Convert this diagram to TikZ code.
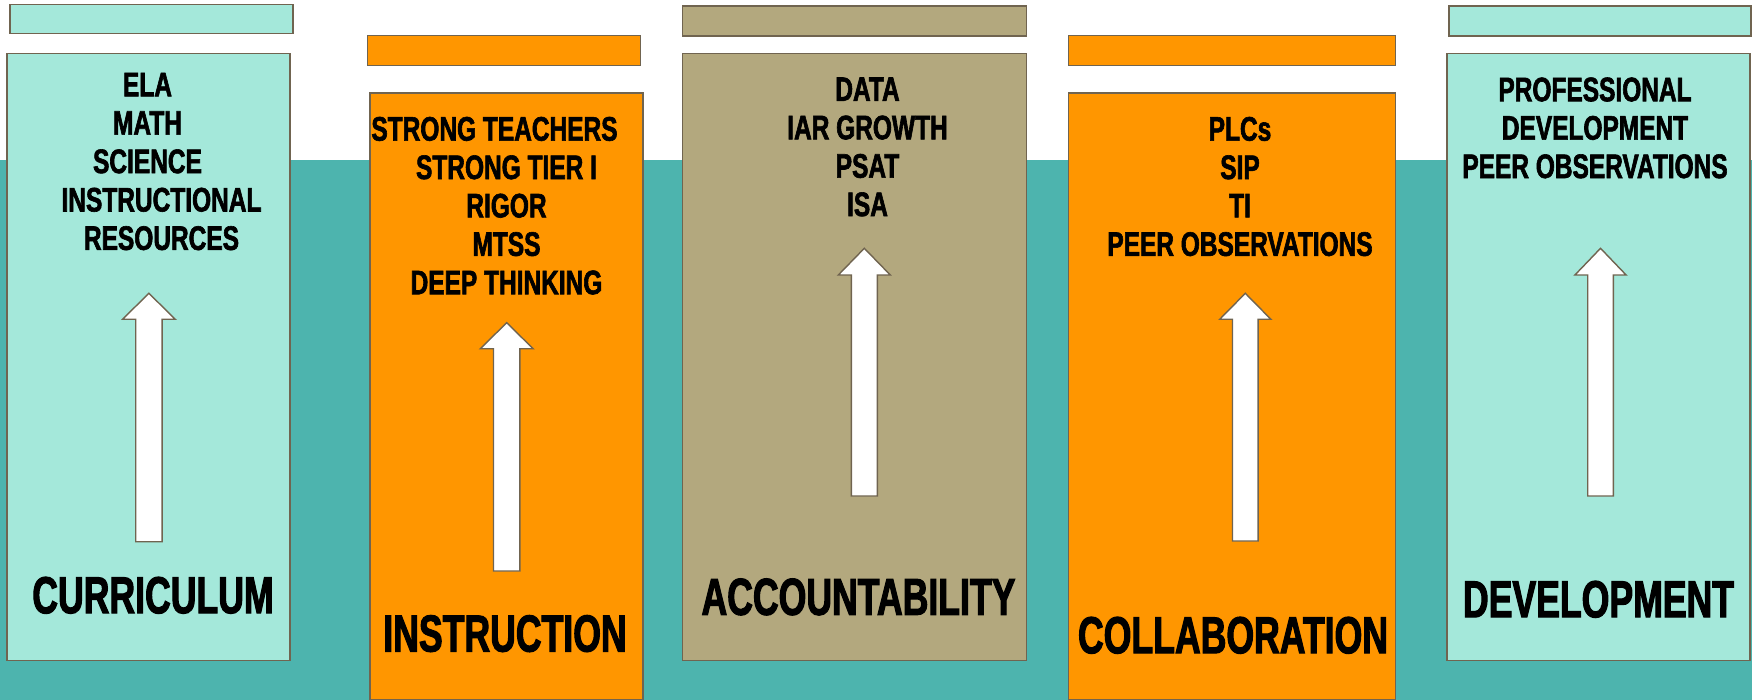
\documentclass[tikz,border=0pt]{standalone}
\usepackage{fontspec}
\newfontfamily\oswi{Liberation Sans}[FakeStretch=0.72,FakeBold=1.8]
\newfontfamily\oswt{Liberation Sans}[FakeStretch=0.685,FakeBold=2]
\definecolor{bgteal}{HTML}{4DB4AE}
\definecolor{mint}{HTML}{A4E8DA}
\definecolor{orng}{HTML}{FF9600}
\definecolor{khaki}{HTML}{B3A87E}
\definecolor{edge}{HTML}{706450}
\newcommand\drawup[5]{% center x, tip y, head base y, bottom y, half shaft
  \draw[arrowbox] ({#1-#5},#4) -- ({#1-#5},#3) -- ({#1-2*#5},#3) -- (#1,#2)
    -- ({#1+2*#5},#3) -- ({#1+#5},#3) -- ({#1+#5},#4) -- cycle;}
\begin{document}
\begin{tikzpicture}[x=1pt,y=-1pt,
  panel/.style={draw=edge,line width=1.6pt},
  arrowbox/.style={draw=edge,fill=white,line width=1.4pt,line join=miter},
  items/.style={font=\oswi\bfseries\fontsize{34}{38.4}\selectfont,align=center,anchor=north,inner sep=0pt},
  title/.style={font=\oswt\bfseries\fontsize{52}{60}\selectfont,anchor=north,inner sep=0pt}]
\useasboundingbox (0,0) rectangle (1752,700);
\fill[white] (0,0) rectangle (1752,700);
\fill[bgteal] (0,160) rectangle (1752,700);
% curriculum
\draw[panel,fill=mint] (9.8,4.5) rectangle (292.9,33.5);
\draw[panel,fill=mint] (7.1,53.5) rectangle (290.2,660.5);
\drawup{148.9}{293.3}{319.3}{541.7}{13.2}
\node[items] (curitems) at (147.5,72.7) {ELA\\MATH\\SCIENCE\\\kern28pt INSTRUCTIONAL\\\kern28pt RESOURCES};
\node[title] (curtitle) at (153,576.7) {CURRICULUM};
% instruction
\draw[panel,fill=orng] (367.4,35.7) rectangle (640.6,65.5);
\draw[panel,fill=orng] (370,93.3) rectangle (642.9,699.5);
\drawup{506.7}{322.7}{348.7}{571}{13.2}
\node[items] (insitems) at (506.5,116.7) {STRONG TEACHERS\kern24pt\\STRONG TIER I\\RIGOR\\MTSS\\DEEP THINKING};
\node[title] (institle) at (505,615) {INSTRUCTION};
% accountability
\draw[panel,fill=khaki] (682.6,6) rectangle (1026.3,36);
\draw[panel,fill=khaki] (682.6,53.5) rectangle (1026.3,660.5);
\drawup{864.3}{248.3}{275}{496}{13}
\node[items] (accitems) at (867.5,77.3) {DATA\\IAR GROWTH\\PSAT\\ISA};
\node[title] (acctitle) at (858.5,578.3) {ACCOUNTABILITY};
% collaboration
\draw[panel,fill=orng] (1068.3,35.7) rectangle (1395.5,65.5);
\draw[panel,fill=orng] (1068.3,93.3) rectangle (1395.3,699.5);
\drawup{1245.3}{293.3}{319.3}{541}{12.8}
\node[items] (colitems) at (1240,116.7) {PLCs\\SIP\\TI\\PEER OBSERVATIONS};
\node[title] (coltitle) at (1233,616.7) {COLLABORATION};
% development
\draw[panel,fill=mint] (1448.7,6) rectangle (1751,36);
\draw[panel,fill=mint] (1446.7,53.7) rectangle (1749.7,660.5);
\drawup{1600.5}{248.3}{275}{496}{12.8}
\node[items] (devitems) at (1595,77.3) {PROFESSIONAL\\DEVELOPMENT\\PEER OBSERVATIONS};
\node[title] (devtitle) at (1598.5,580.7) {DEVELOPMENT};
\end{tikzpicture}
\end{document}
